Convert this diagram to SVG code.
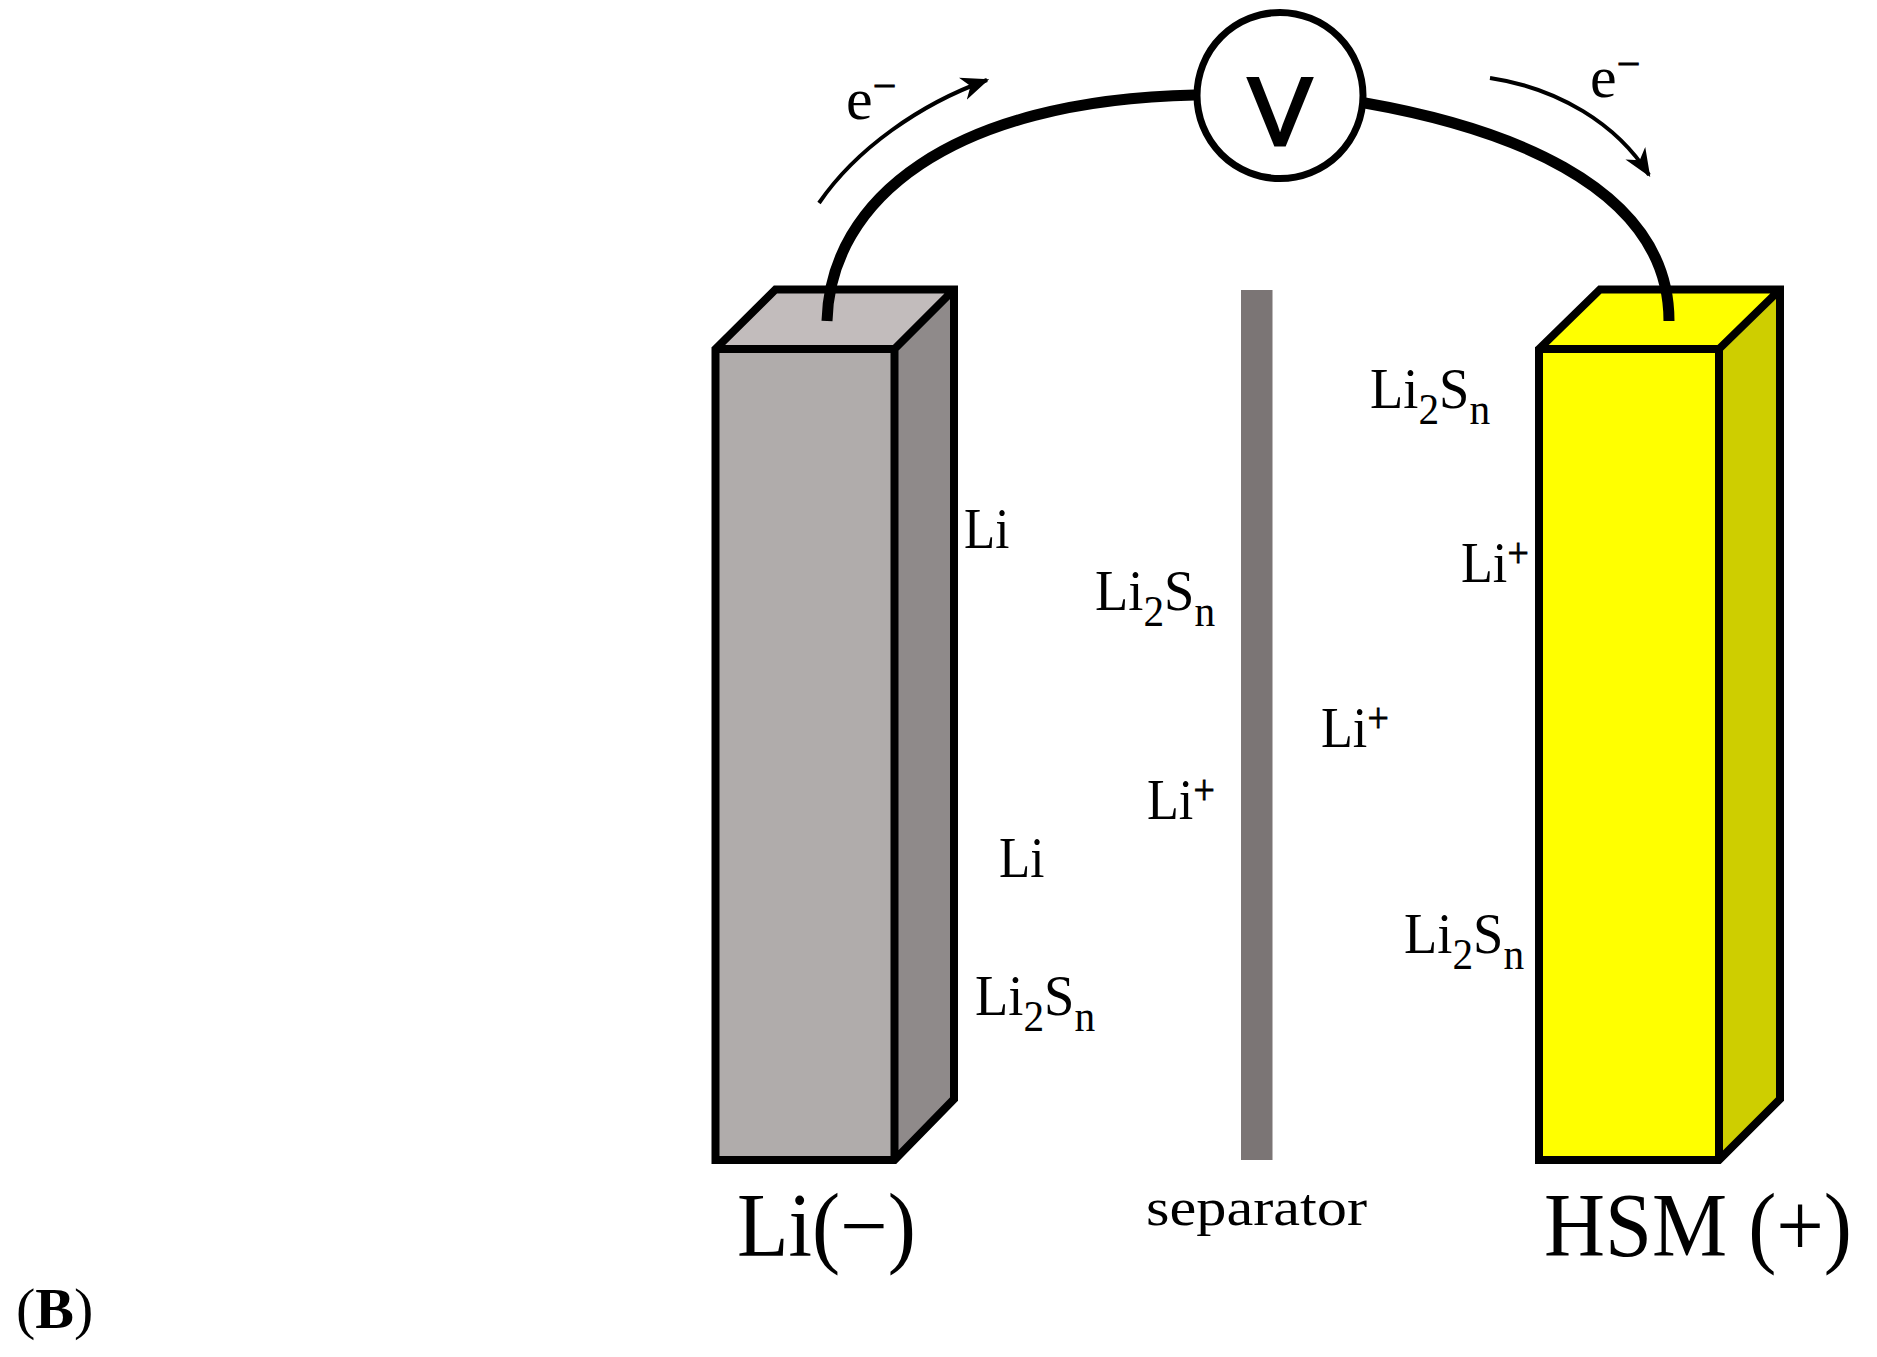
<svg xmlns="http://www.w3.org/2000/svg" width="1877" height="1357" viewBox="0 0 1877 1357">
<style>
text{font-family:"Liberation Serif",serif;fill:#000}
.l{font-size:58px}
.s{font-size:44px}
.p{font-size:42px;stroke:#000;stroke-width:.8}
.e{font-size:60px}
.edge{fill:none;stroke:#000;stroke-width:8;stroke-linejoin:miter}
.wire{fill:none;stroke:#000;stroke-width:11}
.thin{fill:none;stroke:#000;stroke-width:4;marker-end:url(#ah)}
.big{font-size:90px}
</style>
<defs>
<marker id="ah" viewBox="0 0 24 20" refX="22" refY="10" markerWidth="28" markerHeight="24" markerUnits="userSpaceOnUse" orient="auto">
<path d="M0 0L24 10L0 20L7 10Z" fill="#000"/>
</marker>
</defs>
<rect width="1877" height="1357" fill="#fff"/>
<g id="anode">
<polygon fill="#c2bcbc" points="715.5,349 775.5,289.5 954,289.5 894.5,349"/>
<polygon fill="#8f8a8a" points="894.5,349 954,289.5 954,1099 894.5,1160"/>
<rect fill="#b0acab" x="715.5" y="349" width="179" height="811"/>
<path class="edge" d="M715.5 349L775.5 289.5H954V1099L894.5 1160H715.5ZM715.5 349H894.5V1160M894.5 349L954 289.5"/>
</g>
<g id="separator"><rect x="1241" y="290" width="31.500" height="870" fill="#7b7575"/></g>
<g id="cathode">
<polygon fill="#ffff00" points="1539,349 1600,289.500 1780,289.500 1719,349"/>
<polygon fill="#cece00" points="1719,349 1780,289.500 1780,1099 1719,1160"/>
<rect fill="#ffff00" x="1539" y="349" width="180" height="811"/>
<path class="edge" d="M1539 349L1600 289.500H1780V1099L1719 1160H1539ZM1539 349H1719V1160M1719 349L1780 289.500"/>
</g>
<g id="connectors">
<path class="wire" d="M827 321C830 200 950 100 1195 95"/>
<path class="wire" d="M1365 103C1490 125 1669 180 1669 321"/>
<path class="thin" d="M819 203C856 149 920 104 987 80"/>
<path class="thin" d="M1490 78C1558 88 1617 124 1649 175"/>
</g>
<g id="voltmeter">
<circle cx="1280" cy="95.500" r="83" fill="#fff" stroke="#000" stroke-width="7"/>
<text x="1280" y="145" font-size="96" text-anchor="middle" stroke="#000" stroke-width="3" style="font-family:'Liberation Sans',sans-serif">V</text>
</g>
<g id="labels">
<text class="l" transform="translate(964 548) scale(.88 1)">Li</text>
<text class="l" transform="translate(1095 610) scale(.94 1)">Li<tspan class="s" dy="16">2</tspan><tspan dy="-16">S</tspan><tspan class="s" dy="16">n</tspan></text>
<text class="l" transform="translate(1147 819) scale(.9 1)">Li<tspan class="p" dy="-15">+</tspan></text>
<text class="l" transform="translate(999 877) scale(.88 1)">Li</text>
<text class="l" transform="translate(975 1015) scale(.94 1)">Li<tspan class="s" dy="16">2</tspan><tspan dy="-16">S</tspan><tspan class="s" dy="16">n</tspan></text>
<text class="l" transform="translate(1370 408) scale(.94 1)">Li<tspan class="s" dy="16">2</tspan><tspan dy="-16">S</tspan><tspan class="s" dy="16">n</tspan></text>
<text class="l" transform="translate(1461 582) scale(.9 1)">Li<tspan class="p" dy="-15">+</tspan></text>
<text class="l" transform="translate(1321 747) scale(.9 1)">Li<tspan class="p" dy="-15">+</tspan></text>
<text class="l" transform="translate(1404 953) scale(.94 1)">Li<tspan class="s" dy="16">2</tspan><tspan dy="-16">S</tspan><tspan class="s" dy="16">n</tspan></text>
<text class="e" x="846" y="119">e<tspan class="p" dy="-19">−</tspan></text>
<text class="e" x="1590" y="97">e<tspan class="p" dy="-19">−</tspan></text>
<text class="big" x="737" y="1256" textLength="179" lengthAdjust="spacingAndGlyphs">Li(−)</text>
<text x="1146" y="1225" font-size="52" textLength="221" lengthAdjust="spacingAndGlyphs">separator</text>
<text class="big" x="1544" y="1256" textLength="308" lengthAdjust="spacingAndGlyphs">HSM (+)</text>
<text x="16" y="1328" font-size="58">(<tspan font-weight="bold">B</tspan>)</text>
</g>
</svg>
